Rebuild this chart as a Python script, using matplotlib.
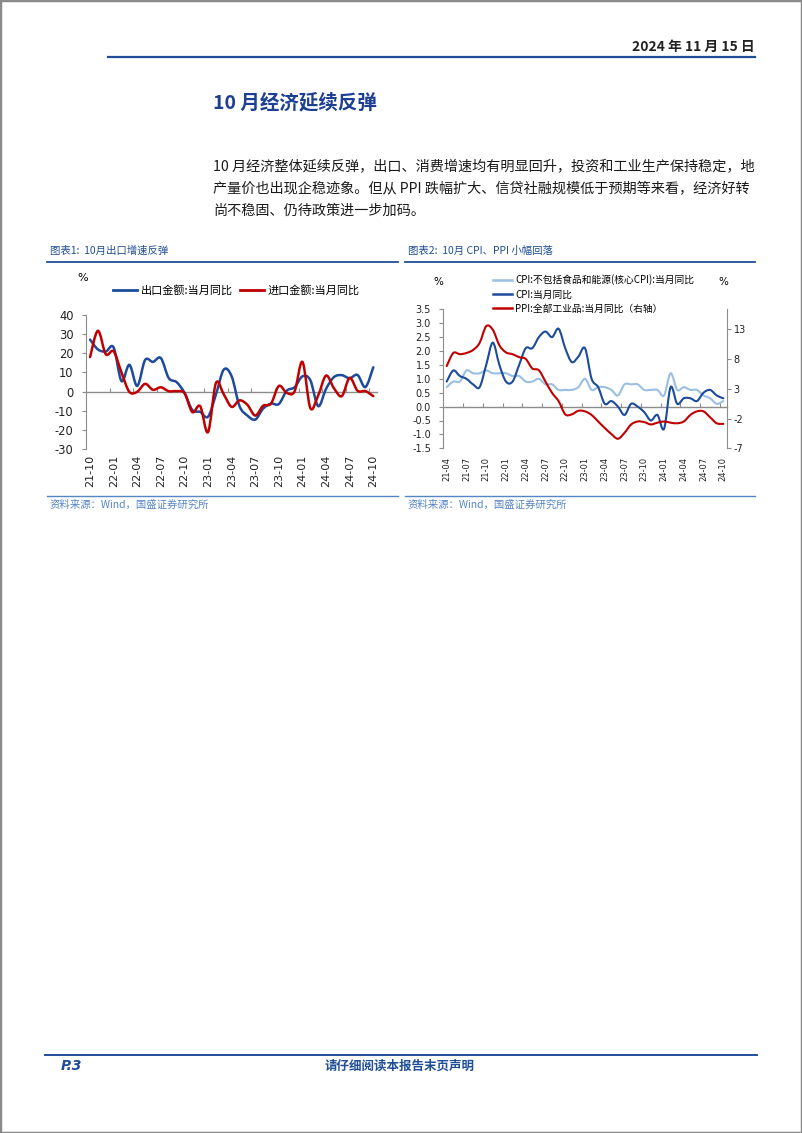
import numpy as np
import pandas as pd
import matplotlib
matplotlib.use('Agg')
import matplotlib.pyplot as plt
from matplotlib.path import Path
from matplotlib.patches import PathPatch, Rectangle
from matplotlib.lines import Line2D

plt.rcParams['font.family'] = ['Noto Sans CJK SC', 'DejaVu Sans']
plt.rcParams['axes.unicode_minus'] = False

# chart 1: exports / imports yoy, monthly 21-10 .. 24-10
trade_months = pd.period_range('2021-10', '2024-10', freq='M').strftime('%y-%m').tolist()
exports = [27.1, 22.0, 20.9, 23.0, 5.5, 14.0, 3.0, 16.5, 15.5, 17.5, 7.1, 5.0, -0.5,
           -9.5, -10.5, -13.0, -1.5, 11.5, 8.0, -7.5, -12.4, -14.5, -8.8, -6.2, -6.4,
           0.5, 2.3, 8.0, 6.0, -7.5, 1.5, 7.6, 8.6, 7.0, 8.7, 2.4, 12.7]
imports = [18.0, 31.7, 19.5, 21.0, 10.0, -0.1, 0.0, 4.1, 1.0, 2.3, 0.3, 0.3, -0.7,
           -10.6, -7.5, -21.0, 4.5, -1.4, -7.9, -4.5, -6.8, -12.4, -7.3, -6.2, 3.0,
           -0.6, 0.2, 15.5, -8.5, -1.9, 8.4, 1.8, -2.3, 7.2, 0.5, 0.3, -2.3]

# chart 2: CPI / core CPI / PPI yoy, monthly 21-04 .. 24-10
price_months = pd.period_range('2021-04', '2024-10', freq='M').strftime('%y-%m').tolist()
cpi = [0.9, 1.3, 1.1, 1.0, 0.8, 0.7, 1.5, 2.3, 1.5,
       0.9, 0.9, 1.5, 2.1, 2.1, 2.5, 2.7, 2.5, 2.8, 2.1, 1.6, 1.8,
       2.1, 1.0, 0.7, 0.1, 0.2, 0.0, -0.3, 0.1, 0.0, -0.2, -0.5, -0.3,
       -0.8, 0.7, 0.1, 0.3, 0.3, 0.2, 0.5, 0.6, 0.4, 0.3]
core_cpi = [0.7, 0.9, 0.9, 1.3, 1.2, 1.2, 1.3, 1.2, 1.2,
            1.2, 1.1, 1.1, 0.9, 0.9, 1.0, 0.8, 0.8, 0.6, 0.6, 0.6, 0.7,
            1.0, 0.6, 0.7, 0.7, 0.6, 0.4, 0.8, 0.8, 0.8, 0.6, 0.6, 0.6,
            0.4, 1.2, 0.6, 0.7, 0.6, 0.6, 0.4, 0.3, 0.1, 0.2]
ppi = [6.8, 9.0, 8.8, 9.0, 9.5, 10.7, 13.5, 12.9, 10.3,
       9.1, 8.8, 8.3, 8.0, 6.4, 6.1, 4.2, 2.3, 0.9, -1.3, -1.3, -0.7,
       -0.8, -1.4, -2.5, -3.6, -4.6, -5.4, -4.4, -3.0, -2.5, -2.6, -3.0, -2.7,
       -2.5, -2.7, -2.8, -2.5, -1.4, -0.8, -0.8, -1.8, -2.8, -2.9]

BLUE = '#1C4B9B'
RED = '#C00000'
LIGHT = '#9BBFE3'
NAVY = '#1F4E96'
SRC = '#5585C5'
GRAY = '#8C8C8C'

W, H = 802, 1133


def fx(x):
    return x / W


def fy(y):
    return 1 - y / H


def smooth_line(ax, y, **kw):
    # excel style smoothed line through the data points
    pts = np.column_stack([np.arange(len(y)), y]).astype(float)
    n = len(pts)
    verts = [pts[0]]
    codes = [Path.MOVETO]
    for i in range(n - 1):
        p0 = pts[max(i - 1, 0)]
        p1 = pts[i]
        p2 = pts[i + 1]
        p3 = pts[min(i + 2, n - 1)]
        verts += [p1 + (p2 - p0) / 6, p2 - (p3 - p1) / 6, p2]
        codes += [Path.CURVE4] * 3
    ax.add_patch(PathPatch(Path(verts, codes), fill=False, capstyle='round',
                           joinstyle='round', **kw))


def zero_axis(ax, n, ymin, ymax):
    frac = (0 - ymin) / (ymax - ymin)
    sec = ax.secondary_xaxis(frac)
    sec.set_xticks(np.arange(2.5, n - 1, 3))
    sec.tick_params(direction='in', length=3, width=0.8, color=GRAY, labelbottom=False)
    sec.spines['bottom'].set_color(GRAY)
    sec.spines['bottom'].set_linewidth(1.0)


fig = plt.figure(figsize=(W / 100, H / 100), dpi=100)
fig.patches.append(Rectangle((0, 0), 1, 1, transform=fig.transFigure, fill=False,
                             edgecolor='#8a8a8a', lw=2.5))

# page header
fig.text(fx(755), fy(47), '2024 年 11 月 15 日', ha='right', va='center',
         fontsize=10, fontweight='bold', color='#222222')
fig.add_artist(Line2D([fx(108), fx(755)], [fy(57), fy(57)], color=NAVY, lw=1.6))
fig.text(fx(213), fy(103), '10 月经济延续反弹', ha='left', va='center',
         fontsize=14, fontweight='bold', color='#1C3F94')

para = ['10 月经济整体延续反弹，出口、消费增速均有明显回升，投资和工业生产保持稳定，地',
        '产量价也出现企稳迹象。但从 PPI 跌幅扩大、信贷社融规模低于预期等来看，经济好转',
        '尚不稳固、仍待政策进一步加码。']
for i, line in enumerate(para):
    fig.text(fx(213), fy(167 + 22 * i), line, ha='left', va='center',
             fontsize=10.2, color='#1a1a1a')

# chart headers and source lines
for x0, x1, title in [(47, 398, '图表1:  10月出口增速反弹'),
                      (405, 755, '图表2:  10月 CPI、PPI 小幅回落')]:
    fig.text(fx(x0 + 3), fy(251), title, ha='left', va='center', fontsize=7.5,
             color=NAVY, style='italic')
    fig.add_artist(Line2D([fx(x0), fx(x1)], [fy(262), fy(262)], color=NAVY, lw=1.3))
    fig.add_artist(Line2D([fx(x0), fx(x1)], [fy(496), fy(496)], color=SRC, lw=1.0))
    fig.text(fx(x0 + 3), fy(505), '资料来源：Wind，国盛证券研究所', ha='left', va='center',
             fontsize=7.5, color=SRC, style='italic')

# ---- chart 1
ax1 = fig.add_axes([fx(86.1), fy(449.4), (377.2 - 86.1) / W, (449.4 - 314.8) / H])
smooth_line(ax1, exports, color=BLUE, lw=1.8, zorder=3)
smooth_line(ax1, imports, color=RED, lw=1.8, zorder=4)
ax1.set_xlim(-0.5, len(trade_months) - 0.5)
ax1.set_ylim(-30, 40)
ax1.set_yticks(range(-30, 41, 10))
ax1.set_xticks(range(0, len(trade_months), 3))
ax1.set_xticklabels(trade_months[::3], rotation=90, fontfamily='DejaVu Sans')
ax1.tick_params(axis='x', length=0, pad=4, labelsize=8, labelcolor='#222222')
ax1.tick_params(axis='y', length=3, width=0.8, color=GRAY, pad=6, labelsize=8.3,
                labelcolor='#222222')
for lab in ax1.get_yticklabels():
    lab.set_fontfamily('DejaVu Sans')
for s in ['top', 'right', 'bottom']:
    ax1.spines[s].set_visible(False)
ax1.spines['left'].set_color(GRAY)
ax1.spines['left'].set_linewidth(0.8)
zero_axis(ax1, len(trade_months), -30, 40)
fig.text(fx(83), fy(278), '%', ha='center', va='center', fontsize=8, fontfamily='DejaVu Sans')
h1 = [Line2D([], [], color=BLUE, lw=2), Line2D([], [], color=RED, lw=2)]
fig.legend(h1, ['出口金额:当月同比', '进口金额:当月同比'], loc='center left',
           bbox_to_anchor=(fx(113), fy(290)), bbox_transform=fig.transFigure, ncol=2,
           frameon=False, fontsize=8, handlelength=2.2, handletextpad=0.3,
           columnspacing=0.6, borderpad=0, borderaxespad=0)

# ---- chart 2
ax2 = fig.add_axes([fx(443.4), fy(448.3), (726.6 - 443.4) / W, (448.3 - 309.3) / H])
smooth_line(ax2, core_cpi, color=LIGHT, lw=1.5, zorder=2)
smooth_line(ax2, cpi, color=BLUE, lw=1.5, zorder=3)
ax2.set_xlim(-0.5, len(price_months) - 0.5)
ax2.set_ylim(-1.5, 3.5)
ax2.set_yticks(np.arange(-1.5, 3.51, 0.5))
ax2.set_yticklabels([f'{v:.1f}' for v in np.arange(-1.5, 3.51, 0.5)], fontfamily='DejaVu Sans')
ax2.set_xticks(range(0, len(price_months), 3))
ax2.set_xticklabels(price_months[::3], rotation=90, fontfamily='DejaVu Sans')
ax2.tick_params(axis='x', length=0, pad=6, labelsize=6, labelcolor='#222222')
ax2.tick_params(axis='y', length=3, width=0.8, color=GRAY, pad=6, labelsize=7,
                labelcolor='#222222')
for s in ['top', 'right', 'bottom']:
    ax2.spines[s].set_visible(False)
ax2.spines['left'].set_color(GRAY)
ax2.spines['left'].set_linewidth(0.8)
zero_axis(ax2, len(price_months), -1.5, 3.5)

ax3 = ax2.twinx()
smooth_line(ax3, ppi, color=RED, lw=1.5, zorder=4)
ax3.set_ylim(-7, -7 * 3.5 / -1.5)
ax3.set_yticks([-7, -2, 3, 8, 13])
ax3.set_yticklabels(['-7', '-2', '3', '8', '13'], fontfamily='DejaVu Sans')
ax3.tick_params(axis='y', length=3, width=0.8, color=GRAY, pad=2, labelsize=7,
                labelcolor='#222222')
for s in ['top', 'left', 'bottom']:
    ax3.spines[s].set_visible(False)
ax3.spines['right'].set_color(GRAY)
ax3.spines['right'].set_linewidth(0.8)

fig.text(fx(438), fy(282), '%', ha='center', va='center', fontsize=7.5, fontfamily='DejaVu Sans')
fig.text(fx(723), fy(282), '%', ha='center', va='center', fontsize=7.5, fontfamily='DejaVu Sans')
h2 = [Line2D([], [], color=LIGHT, lw=1.8), Line2D([], [], color=BLUE, lw=1.8),
      Line2D([], [], color=RED, lw=1.8)]
fig.legend(h2, ['CPI:不包括食品和能源(核心CPI):当月同比', 'CPI:当月同比',
                'PPI:全部工业品:当月同比（右轴）'],
           loc='center left', bbox_to_anchor=(fx(493), fy(294)),
           bbox_transform=fig.transFigure, frameon=False, fontsize=7,
           handlelength=2.0, handletextpad=0.3, labelspacing=0.45,
           borderpad=0, borderaxespad=0)

# footer
fig.add_artist(Line2D([fx(45), fx(757)], [fy(1055), fy(1055)], color=NAVY, lw=1.4))
fig.text(fx(61), fy(1066), 'P.3', ha='left', va='center', fontsize=10,
         fontweight='bold', style='italic', color=NAVY, fontfamily='DejaVu Sans')
fig.text(fx(400), fy(1066), '请仔细阅读本报告末页声明', ha='center', va='center',
         fontsize=9, fontweight='bold', color=NAVY)

fig.savefig('out.png', dpi=100)
